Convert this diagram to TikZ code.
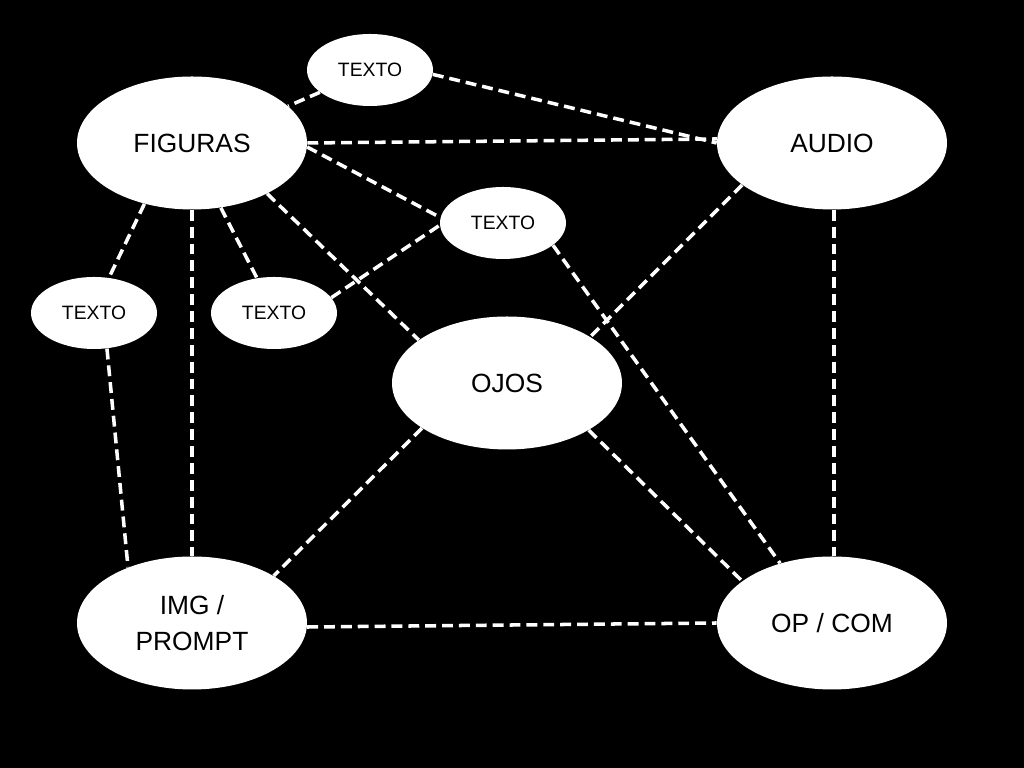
\documentclass[tikz,border=0pt]{standalone}
\usepackage{fontspec}
\setmainfont{Liberation Sans}
\usetikzlibrary{shapes.geometric}

\begin{document}
\begin{tikzpicture}[bigel/.style={ellipse,fill=white,inner sep=0pt,minimum width=4.6cm,minimum height=2.66cm,font=\fontsize{15}{20.5}\selectfont,align=center},
	smallel/.style={ellipse,fill=white,inner sep=0pt,minimum width=2.52cm,minimum height=1.44cm,font=\fontsize{11}{13}\selectfont},
	link/.style={white,line width=2pt,dash pattern=on 6.2pt off 3.4pt}]
	\fill[black] (0,0) rectangle (20.48,15.36);
	\node[bigel] (figuras) at (3.84,12.50) {FIGURAS};
	\node[bigel] (audio) at (16.64,12.50) {AUDIO};
	\node[bigel] (ojos) at (10.14,7.70) {OJOS};
	\node[bigel] (img) at (3.84,2.90) {IMG /\\PROMPT};
	\node[bigel] (opcom) at (16.64,2.90) {OP / COM};
	\node[smallel] (textoA) at (7.40,13.96) {TEXTO};
	\node[smallel] (textoB) at (10.06,10.90) {TEXTO};
	\node[smallel] (textoC) at (1.88,9.10) {TEXTO};
	\node[smallel] (textoD) at (5.48,9.10) {TEXTO};
	
	\draw[link] (textoA.204) -- (figuras.21);
	\draw[link] (textoA.356) -- (audio.180);
	\draw[link] (figuras.0) -- (audio.178);
	\draw[link] (figuras.358) -- (textoB.175);
	\draw[link] (textoD.15) -- (textoB.182);
	\draw[link] (figuras.326) -- (ojos.154);
	\draw[link] (figuras.232) -- (textoC.67);
	\draw[link] (figuras.270) -- (img.90);
	\draw[link] (figuras.294) -- (textoD.116);
	\draw[link] (textoC.290) -- (img.139);
	\draw[link] (audio.205) -- (ojos.29);
	\draw[link] (textoB.336) -- (opcom.131);
	\draw[link] ([xshift=0.04cm]audio.270) -- ([xshift=0.04cm]opcom.90);
	\draw[link] (ojos.208) -- (img.30);
	\draw[link] (ojos.330) -- (opcom.155);
	\draw[link] (img.358) -- (opcom.180);
	
\end{tikzpicture}
\end{document}
